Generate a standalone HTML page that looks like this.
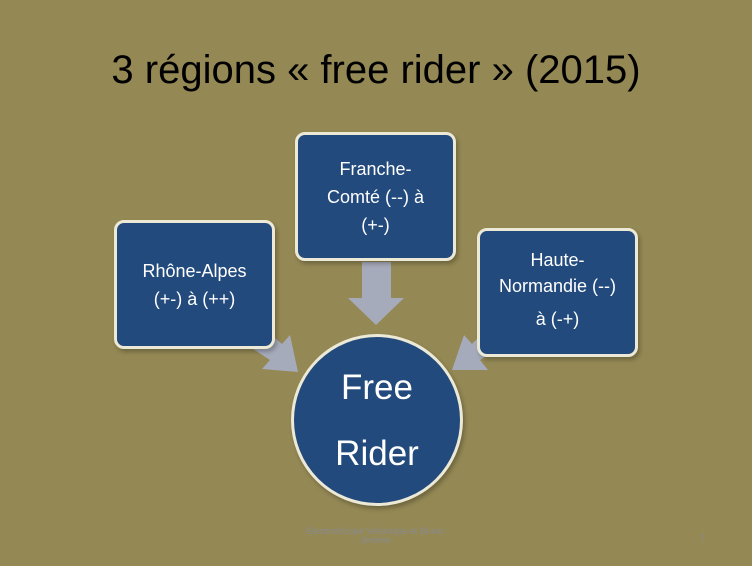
<!DOCTYPE html>
<html><head><meta charset="utf-8"><style>
body{margin:0;width:752px;height:566px;background:#948854;position:relative;overflow:hidden;font-family:"Liberation Sans",sans-serif}
.t{position:absolute;left:0;width:752px;top:48px;text-align:center;font-size:40px;color:#000}
.b{position:absolute;box-sizing:border-box;width:161px;height:129px;background:#224a7c;border:3px solid #ece9d6;border-radius:10px;color:#fff;font-size:18px;line-height:28px;display:flex;align-items:center;justify-content:center;text-align:center;box-shadow:2px 3px 4px rgba(0,0,0,.25);white-space:nowrap}
.c{position:absolute;left:291px;top:334px;width:172px;height:172px;box-sizing:border-box;border-radius:50%;background:#224a7c;border:3px solid #ece9d6;color:#fff;font-size:35px;line-height:66px;text-align:center;padding-top:18px;box-shadow:2px 3px 4px rgba(0,0,0,.25)}
.f{position:absolute;color:#8a8a90;font-size:9px;text-align:center}
</style></head><body>
<div class="t">3 régions « free rider » (2015)</div>
<svg width="752" height="566" style="position:absolute;left:0;top:0">
<polygon points="362,262 391,262 391,298 404,298 376,325 348,298 362,298" fill="#a6abbb"/>
<polygon points="253,349 268,332 282,344 290,335 298,372 262,369 270,360" fill="#a6abbb"/>
<polygon points="499,348 484,332 472,344 464,335 452,370 488,370 480,360" fill="#a6abbb"/>
</svg>
<div class="b" style="left:114px;top:220px"><div>Rhône-Alpes<br>(+-) à (++)</div></div>
<div class="b" style="left:295px;top:132px"><div>Franche-<br>Comté (--) à<br>(+-)</div></div>
<div class="b" style="left:477px;top:228px;line-height:26px"><div>Haute-<br>Normandie (--)<br><span style="line-height:40px">à (-+)</span></div></div>
<div class="c">Free<br>Rider</div>
<div class="f" style="left:275px;top:527px;width:200px;line-height:9px">ElectionScope Véronique et Bruno<br>Jérôme</div>
<div class="f" style="left:700px;top:533px">7</div>
</body></html>
